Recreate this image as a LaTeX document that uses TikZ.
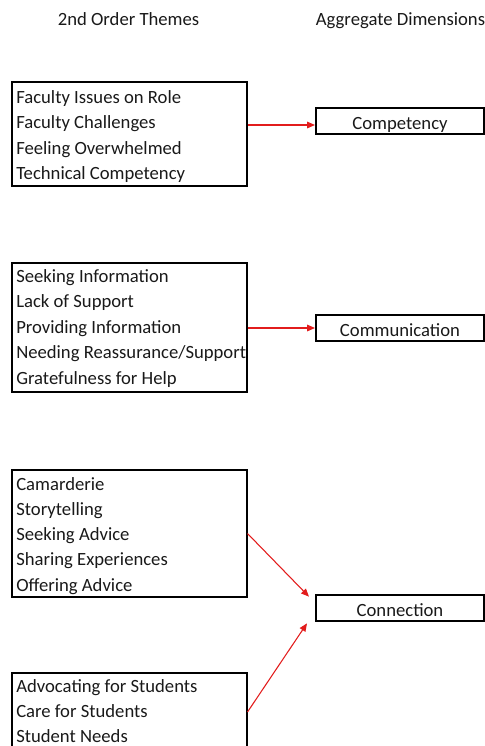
\documentclass[tikz,border=0pt]{standalone}
\usepackage{fontspec}
\setmainfont{Carlito}
\usetikzlibrary{arrows.meta}
\definecolor{linkred}{RGB}{226,28,28}
\definecolor{txt}{RGB}{25,25,25}
\begin{document}
\begin{tikzpicture}[x=0.75pt,y=-0.75pt,
  every node/.style={text=txt,font=\fontsize{14}{16}\selectfont},
  themebox/.style={draw=black,line width=1.5pt,minimum width=176.25pt,inner sep=0pt},
  dimbox/.style={draw=black,line width=1.5pt,minimum width=126pt,minimum height=19.5pt,
    inner sep=0pt,text height=12.5pt,text depth=0pt},
  item/.style={anchor=base west,inner sep=0pt},
  head/.style={anchor=base,inner sep=0pt},
  arr/.style={draw=linkred,line width=0.8pt,-{Triangle[length=6pt,width=5pt]}}]
\useasboundingbox (0,0) rectangle (485,746);
\clip (0,0) rectangle (485,746);

% column headings
\node[head] (h1) at (128.5,25) {2nd Order Themes};
\node[head] (h2) at (400.5,25) {Aggregate Dimensions};

% second-order theme groups
\node[themebox,minimum height=78pt] (b1) at (129,133.5) {};
\node[item] (t11) at (16,103) {Faculty Issues on Role};
\node[item] (t12) at (16,128.5) {Faculty Challenges};
\node[item] (t13) at (16,154) {Feeling Overwhelmed};
\node[item] (t14) at (16,179.5) {Technical Competency};

\node[themebox,minimum height=97.1pt] (b2) at (129,327.5) {};
\node[item] (t21) at (16,282) {Seeking Information};
\node[item] (t22) at (16,307.5) {Lack of Support};
\node[item] (t23) at (16,333) {Providing Information};
\node[item] (t24) at (16,358.5) {Needing Reassurance/Support};
\node[item] (t25) at (16,384) {Gratefulness for Help};

\node[themebox,minimum height=95.25pt] (b3) at (129,533.5) {};
\node[item] (t31) at (16,490) {Camarderie};
\node[item] (t32) at (16,515.3) {Storytelling};
\node[item] (t33) at (16,540.5) {Seeking Advice};
\node[item] (t34) at (16,565.8) {Sharing Experiences};
\node[item] (t35) at (16,591) {Offering Advice};

\node[themebox,minimum height=58.5pt] (b4) at (129,712) {};
\node[item] (t41) at (16,692) {Advocating for Students};
\node[item] (t42) at (16,717.3) {Care for Students};
\node[item] (t43) at (16,742.3) {Student Needs};

% aggregate dimensions
\node[dimbox] (c1) at (400,121) {Competency};
\node[dimbox] (c2) at (400,328) {Communication};
\node[dimbox] (c3) at (400,608) {Connection};

% links
\coordinate (a1) at (0,125);
\draw[arr] (b1.east |- a1) -- (c1.west |- a1);
\draw[arr] (b2.east |- c2.west) -- (c2.west);
\draw[arr] (b3.east) -- ([shift={(-4.5pt,-2pt)}]c3.north west);
\draw[arr] (b4.east) -- ([shift={(-6pt,-1pt)}]c3.south west);
\end{tikzpicture}
\end{document}
